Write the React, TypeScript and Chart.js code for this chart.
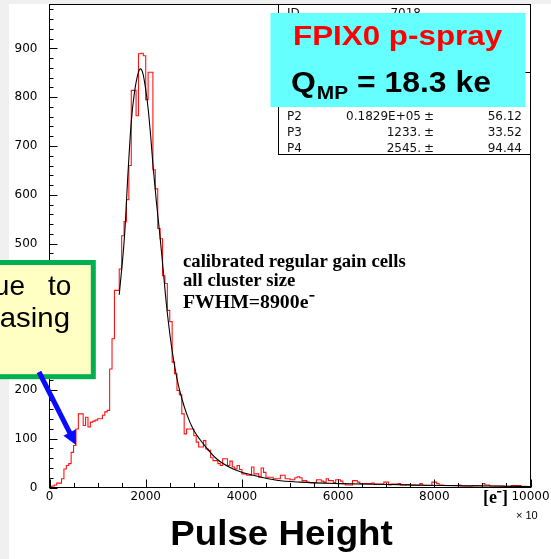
import React, { useEffect, useRef } from 'react';
import { Chart, registerables } from 'chart.js';

Chart.register(...registerables);

// ---------------- data (x axis in units of 10 e-) ----------------
const BIN_WIDTH = 50;
const X_MIN = 0;
const X_MAX = 10000;
const Y_MAX = 990;

const binCounts: number[] = [
  2, 3, 5, 9, 9, 18, 38, 45, 49, 72,
  86, 120, 151, 151, 127, 144, 124, 134, 136, 138,
  141, 141, 148, 155, 158, 243, 305, 404, 404, 448,
  516, 545, 590, 660, 814, 814, 762, 889, 890, 885,
  795, 851, 851, 651, 612, 531, 510, 434, 418, 363,
  340, 257, 233, 199, 190, 151, 110, 120, 120, 120,
  106, 93, 83, 83, 96, 79, 76, 61, 55, 55,
  49, 45, 59, 59, 45, 54, 42, 38, 45, 37,
  28, 28, 25, 25, 42, 28, 28, 21, 40, 31,
  21, 21, 21, 18, 18, 18, 25, 25, 18, 18,
  16, 16, 20, 22, 20, 14, 14, 11, 10, 10,
  10, 16, 16, 13, 11, 18, 14, 14, 10, 16,
  16, 13, 8, 5, 5, 5, 14, 14, 11, 8,
  8, 8, 8, 8, 9, 7, 7, 7, 7, 11,
  11, 5, 7, 7, 7, 8, 5, 5, 6, 6,
  4, 4, 4, 4, 8, 4, 4, 4, 4, 11,
  11, 8, 5, 5, 4, 4, 4, 4, 4, 4,
  5, 3, 3, 3, 3, 3, 4, 4, 4, 4,
  8, 5, 5, 3, 3, 3, 3, 3, 3, 2,
  2, 2, 4, 4, 4, 4, 2, 2, 2, 2,
];

const fitX: number[] = [1450, 1563, 1631, 1702, 1771, 1840, 1890, 1944, 1994, 2048, 2104, 2152, 2223, 2292, 2360, 2431, 2535, 2640, 2744, 2848, 2985, 3194, 3473, 3819, 4235, 4723, 5208, 6042, 7083, 8125, 9167, 10000];
const fitY: number[] = [395, 520, 643, 752, 813, 848, 858, 848, 820, 779, 720, 660, 585, 520, 450, 375, 290, 228, 185, 152, 120, 90, 59, 38, 25, 15, 11, 8, 6, 4, 3, 2];

const xTickValues: number[] = [0, 2000, 4000, 6000, 8000, 10000];
const yTickValues: number[] = [0, 100, 200, 300, 400, 500, 600, 700, 800, 900];
const X_MINOR_STEP = 500;
const Y_MINOR_STEP = 20;

const statsId = ['ID', '7018'];
const statsRows: string[][] = [
  ['P2', '0.1829E+05', '56.12'],
  ['P3', '1233.', '33.52'],
  ['P4', '2545.', '94.44'],
];
const titleText = 'FPIX0 p-spray';
const qmpMain = 'Q';
const qmpSub = 'MP';
const qmpRest = ' = 18.3 ke';
const noteLines = ['calibrated regular gain cells', 'all cluster size', 'FWHM=8900e'];
const calloutLine1 = ['ue', 'to'];
const calloutLine2 = 'asing';
const xUnitText = 'e';
const xExpText = '\u00d7 10';
const xTitle = 'Pulse Height';

// ---------------- helpers ----------------
function txt(ctx: CanvasRenderingContext2D, s: string, x: number, y: number, font: string, color: string, align: CanvasTextAlign = 'left', sx = 1) {
  ctx.save();
  ctx.font = font;
  ctx.fillStyle = color;
  ctx.textAlign = align;
  ctx.textBaseline = 'alphabetic';
  ctx.translate(x, y);
  ctx.scale(sx, 1);
  ctx.fillText(s, 0, 0);
  ctx.restore();
}

const overlayPlugin = {
  id: 'overlay',
  beforeDraw(chart: any) {
    const ctx: CanvasRenderingContext2D = chart.ctx;
    ctx.save();
    ctx.fillStyle = '#f0f0f0';
    ctx.fillRect(0, 0, chart.width, chart.height);
    ctx.fillStyle = '#ffffff';
    ctx.fillRect(9, 4, chart.width - 9, chart.height - 4);
    ctx.restore();
  },
  afterDraw(chart: any) {
    const ctx: CanvasRenderingContext2D = chart.ctx;
    const { left, right, top, bottom } = chart.chartArea;
    const xs = chart.scales.x;
    const ys = chart.scales.y;
    ctx.save();
    // frame
    ctx.strokeStyle = '#000';
    ctx.lineWidth = 1;
    ctx.strokeRect(left, top, right - left, bottom - top);
    // y ticks (inside)
    ctx.beginPath();
    for (let v = 0; v <= Y_MAX; v += Y_MINOR_STEP) {
      const y = Math.round(ys.getPixelForValue(v)) + 0.5;
      const len = yTickValues.includes(v) ? 8 : 4;
      ctx.moveTo(left, y);
      ctx.lineTo(left + len, y);
    }
    // x ticks (inside)
    for (let v = X_MIN; v <= X_MAX; v += X_MINOR_STEP) {
      const x = Math.round(xs.getPixelForValue(v)) + 0.5;
      const len = xTickValues.includes(v) ? 8 : 4.5;
      ctx.moveTo(x, bottom);
      ctx.lineTo(x, bottom - len);
    }
    ctx.stroke();

    // stats box
    ctx.fillStyle = '#fff';
    ctx.fillRect(278.5, top, right - 278.5, 154.5 - top);
    ctx.strokeStyle = '#000';
    ctx.strokeRect(278.5, top, right - 278.5, 154.5 - top);
    ctx.beginPath();
    ctx.moveTo(278.5, 72.5);
    ctx.lineTo(right, 72.5);
    ctx.stroke();
    const sf = '12px "DejaVu Sans"';
    txt(ctx, statsId[0], 287, 16.5, sf, '#111');
    txt(ctx, statsId[1], 421, 16.5, sf, '#111', 'right');
    statsRows.forEach((r, i) => {
      const by = 120 + i * 16;
      txt(ctx, r[0], 287, by, sf, '#111');
      txt(ctx, r[1], 421, by, sf, '#111', 'right');
      txt(ctx, '\u00b1', 424, by, sf, '#111');
      txt(ctx, r[2], 522, by, sf, '#111', 'right');
    });

    // cyan label box
    ctx.fillStyle = '#66ffff';
    ctx.fillRect(270.5, 13, 255, 94);
    txt(ctx, titleText, 293, 45, 'bold 28px "Liberation Sans"', '#ff0000', 'left', 1.12);
    const qf = 'bold 29px "Liberation Sans"';
    const sx = 1.1;
    ctx.font = qf;
    const qW = ctx.measureText(qmpMain).width * sx;
    txt(ctx, qmpMain, 291, 92, qf, '#000', 'left', sx);
    const sf2 = 'bold 19px "Liberation Sans"';
    ctx.font = sf2;
    const mpW = ctx.measureText(qmpSub).width * sx;
    txt(ctx, qmpSub, 291 + qW + 1, 99, sf2, '#000', 'left', sx);
    txt(ctx, qmpRest, 291 + qW + 1 + mpW, 92, qf, '#000', 'left', sx);

    // annotation text
    const nf = 'bold 18px "Liberation Serif"';
    txt(ctx, noteLines[0], 183, 267, nf, '#000', 'left', 1.04);
    txt(ctx, noteLines[1], 183, 286, nf, '#000', 'left', 1.04);
    const nf3 = 'bold 19px "Liberation Serif"';
    txt(ctx, noteLines[2], 183, 308, nf3, '#000', 'left', 1.04);
    ctx.font = nf3;
    const w3 = ctx.measureText(noteLines[2]).width * 1.04;
    ctx.fillStyle = '#000';
    ctx.fillRect(183 + w3 + 1, 295, 5, 1.6);

    // green callout box
    ctx.fillStyle = '#ffffc4';
    ctx.fillRect(-10, 262.5, 103.3, 114.2);
    ctx.strokeStyle = '#00b050';
    ctx.lineWidth = 5;
    ctx.strokeRect(-10, 262.5, 103.3, 114.2);
    const cf = '28px "Liberation Sans"';
    txt(ctx, calloutLine1[0], 25, 295, cf, '#000', 'right');
    txt(ctx, calloutLine1[1], 48, 295, cf, '#000', 'left');
    txt(ctx, calloutLine2, 70, 327, cf, '#000', 'right', 1.05);

    // blue arrow
    const x0 = 39, y0 = 372, x1 = 76, y1 = 445;
    const dx = x1 - x0, dy = y1 - y0;
    const L = Math.hypot(dx, dy);
    const ux = dx / L, uy = dy / L;
    const px = -uy, py = ux;
    const hl = 14, hw = 7;
    const bx = x1 - ux * hl, by2 = y1 - uy * hl;
    ctx.strokeStyle = '#0a0aff';
    ctx.fillStyle = '#0a0aff';
    ctx.lineWidth = 5;
    ctx.beginPath();
    ctx.moveTo(x0, y0);
    ctx.lineTo(bx + ux * 2, by2 + uy * 2);
    ctx.stroke();
    ctx.beginPath();
    ctx.moveTo(x1, y1);
    ctx.lineTo(bx + px * hw, by2 + py * hw);
    ctx.lineTo(bx - px * hw, by2 - py * hw);
    ctx.closePath();
    ctx.fill();

    // x axis unit / exponent / title
    const uf = 'bold 18px "Liberation Serif"';
    ctx.font = uf;
    let ux0 = 483;
    txt(ctx, '[', ux0, 503, uf, '#000');
    ux0 += ctx.measureText('[').width;
    txt(ctx, xUnitText, ux0, 503, uf, '#000');
    ux0 += ctx.measureText(xUnitText).width;
    ctx.fillStyle = '#000';
    ctx.fillRect(ux0, 491, 4.5, 1.5);
    ux0 += 5;
    txt(ctx, ']', ux0, 503, uf, '#000');
    txt(ctx, xExpText, 516, 519, '11px "Liberation Sans"', '#000');
    txt(ctx, xTitle, 281.5, 545, 'bold 35px "Liberation Sans"', '#000', 'center', 1.05);
    ctx.restore();
  },
};

export default function App() {
  const ref = useRef<HTMLCanvasElement>(null);
  useEffect(() => {
    const histData = binCounts.map((v, i) => ({ x: X_MIN + i * BIN_WIDTH, y: v }));
    histData.push({ x: X_MIN + binCounts.length * BIN_WIDTH, y: binCounts[binCounts.length - 1] });
    const fitData = fitX.map((x, i) => ({ x, y: fitY[i] }));
    const tickFont = { family: '"DejaVu Sans"', size: 12 };
    const chart = new Chart(ref.current as HTMLCanvasElement, {
      type: 'line',
      data: {
        datasets: [
          {
            data: fitData,
            borderColor: '#000',
            borderWidth: 1.1,
            pointRadius: 0,
            cubicInterpolationMode: 'monotone',
            fill: false,
          },
          {
            data: histData,
            borderColor: 'rgb(255,20,20)',
            borderWidth: 1.1,
            pointRadius: 0,
            stepped: true,
            fill: false,
          },
        ],
      },
      options: {
        animation: false,
        responsive: false,
        devicePixelRatio: 1,
        layout: { padding: { left: 0, right: 20.5, top: 4.5, bottom: 0 } },
        plugins: { legend: { display: false }, tooltip: { enabled: false } },
        scales: {
          x: {
            type: 'linear',
            min: X_MIN,
            max: X_MAX,
            grid: { display: false, drawTicks: false },
            border: { display: false },
            ticks: {
              autoSkip: false,
              maxRotation: 0,
              padding: 2,
              color: '#000',
              font: tickFont,
              callback: (v: any) => String(v),
            },
            afterBuildTicks: (s: any) => {
              s.ticks = xTickValues.map((value) => ({ value }));
            },
            afterFit: (s: any) => {
              s.height = 71.5;
              s.paddingLeft = 0;
              s.paddingRight = 0;
            },
          },
          y: {
            type: 'linear',
            min: 0,
            max: Y_MAX,
            grid: { display: false, drawTicks: false },
            border: { display: false },
            ticks: {
              autoSkip: false,
              padding: 12,
              color: '#000',
              font: tickFont,
              callback: (v: any) => String(v),
            },
            afterBuildTicks: (s: any) => {
              s.ticks = yTickValues.map((value) => ({ value }));
            },
            afterFit: (s: any) => {
              s.width = 49.5;
              s.paddingTop = 0;
              s.paddingBottom = 0;
            },
          },
        },
      } as any,
      plugins: [overlayPlugin],
    });
    return () => chart.destroy();
  }, []);
  return (
    <div style={{ position: 'fixed', left: 0, top: 0, width: 551, height: 559 }}>
      <canvas ref={ref} width={551} height={559} style={{ display: 'block' }} />
    </div>
  );
}
